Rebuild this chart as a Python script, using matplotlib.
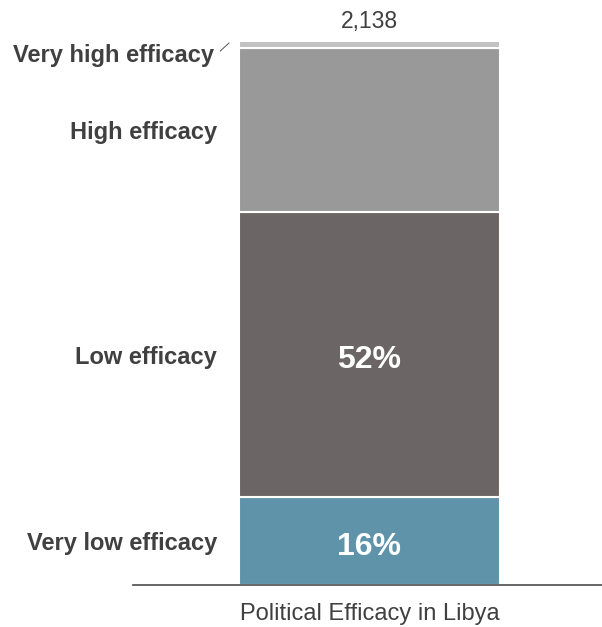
import matplotlib.pyplot as plt

plt.rcParams['font.family'] = ['Liberation Sans', 'DejaVu Sans']

# Share of respondents per efficacy level (bottom to top)
categories = ['Very low efficacy', 'Low efficacy', 'High efficacy', 'Very high efficacy']
shares = [16.2, 52.3, 30.3, 1.2]
colors = ['#5e93a9', '#6b6665', '#999999', '#c1c1c1']
shown_labels = ['16%', '52%', '', '']
bar_name = 'Political Efficacy in Libya'
n_total = '2,138'

fig = plt.figure(figsize=(6.02, 6.27), dpi=100)
ax = fig.add_axes([133 / 602, 1 - 585 / 627, 1 - 133 / 602, (585 - 41) / 627])

x0 = 0
label_x = -0.585
bottom = 0
for cat, val, col, lab in zip(categories, shares, colors, shown_labels):
    ax.bar(x0, val, bottom=bottom, width=1.0, color=col, edgecolor='white',
           linewidth=1.5)
    mid = bottom + val / 2
    if lab:
        ax.text(x0, mid - 0.4, lab, ha='center', va='center_baseline',
                color='white', fontsize=23, fontweight='bold')
    if cat == 'Very high efficacy':
        # short leader line to the thin top segment
        ax.annotate('', xy=(-0.53, mid + 0.6), xytext=(-0.58, mid - 1.6),
                    arrowprops=dict(arrowstyle='-', color='#505050', lw=0.7),
                    annotation_clip=False)
        ax.text(label_x - 0.01, mid - 1.6, cat, ha='right', va='center_baseline',
                color='#404040', fontsize=17, fontweight='bold')
    else:
        ax.text(label_x, mid, cat, ha='right', va='center_baseline',
                color='#404040', fontsize=17, fontweight='bold')
    bottom += val

ax.text(x0, bottom + 4.0, n_total, ha='center', va='center_baseline',
        color='#404040', fontsize=16.5)

# bar spans 239..500 px inside an axis running 133..602 px
px_per_unit = 261
ax.set_xlim(x0 - (369.5 - 133) / px_per_unit, x0 + (602 - 369.5) / px_per_unit)
ax.set_ylim(0, 100)
ax.set_xticks([x0])
ax.set_xticklabels([bar_name], fontsize=17, color='#404040')
ax.tick_params(axis='x', length=0, pad=13)
ax.set_yticks([])
for side in ['top', 'right', 'left']:
    ax.spines[side].set_visible(False)
ax.spines['bottom'].set_color('#595959')
ax.spines['bottom'].set_linewidth(1.3)

fig.savefig('out.png', dpi=100)
